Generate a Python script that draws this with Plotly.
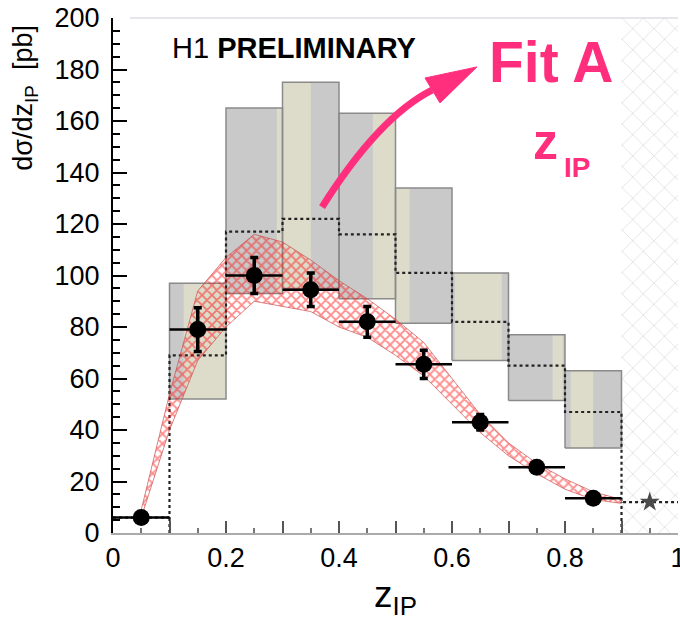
import plotly.graph_objects as go

# ---------------- data ----------------
# measured points
x_pts = [0.05, 0.15, 0.25, 0.35, 0.45, 0.55, 0.65, 0.75, 0.85]
y_pts = [6, 79, 100, 94.5, 82, 65.5, 43, 25.5, 13.5]
y_err = [1, 8.5, 7, 6.5, 6, 5.5, 3, 2, 1.5]
x_halfwidth = [0.05] * 9
x_excl_pt = [0.95]
y_excl_pt = [12]

# model uncertainty boxes (per bin)
box_x0 = [0.1, 0.2, 0.3, 0.4, 0.5, 0.6, 0.7, 0.8]
box_x1 = [0.2, 0.3, 0.4, 0.5, 0.6, 0.7, 0.8, 0.9]
box_lo = [52, 93, 95, 91, 81.5, 67, 51.5, 33]
box_hi = [97, 165, 175, 163, 134, 101, 77, 63]
strip_x0 = [0.125, 0.29, 0.30, 0.46, 0.50, 0.605, 0.778, 0.81]
strip_x1 = [0.200, 0.30, 0.35, 0.50, 0.525, 0.688, 0.796, 0.85]

# dotted central histogram
hist_edges = [0.0, 0.1, 0.2, 0.3, 0.4, 0.5, 0.6, 0.7, 0.8, 0.9, 1.0]
hist_vals = [6, 69, 117, 122, 116, 101, 82, 65, 47, 12]

# Fit A band
band_x = [0.05, 0.10, 0.15, 0.20, 0.25, 0.30, 0.35, 0.40, 0.45, 0.50,
          0.55, 0.60, 0.65, 0.70, 0.75, 0.80, 0.85, 0.90]
band_up = [9, 54, 94, 107, 116, 113, 106, 98, 91, 83, 74, 60, 46, 35, 27, 21, 16, 13]
band_lo = [6, 40, 67, 80, 90, 88, 86, 80, 76, 69, 61, 50, 39, 30, 23, 17, 13, 11.5]

# excluded region
excl_x = [0.9, 1.0]
y_range = [0, 200]

x_major = [0, 0.2, 0.4, 0.6, 0.8, 1.0]
x_major_text = ["0", "0.2", "0.4", "0.6", "0.8", "1"]
x_mid = [0.1, 0.3, 0.5, 0.7, 0.9]

PINK = "#ff2f7d"
FONT = "Liberation Sans, Arial, sans-serif"

fig = go.Figure()

# excluded hatched region
fig.add_trace(go.Scatter(
    x=[excl_x[0], excl_x[1], excl_x[1], excl_x[0], excl_x[0]],
    y=[y_range[0], y_range[0], y_range[1], y_range[1], y_range[0]],
    fill="toself", mode="lines", line=dict(width=0),
    fillcolor="rgba(0,0,0,0)",
    fillpattern=dict(shape="x", fgcolor="#bdbdbd", bgcolor="white", size=15, solidity=0.1),
    hoverinfo="skip", showlegend=False))

# gray boxes fill
for x0, x1, lo, hi in zip(box_x0, box_x1, box_lo, box_hi):
    fig.add_trace(go.Scatter(
        x=[x0, x1, x1, x0, x0], y=[lo, lo, hi, hi, lo],
        fill="toself", mode="lines", line=dict(width=0),
        fillcolor="#c9c9c9", hoverinfo="skip", showlegend=False))
# beige strips
for s0, s1, lo, hi in zip(strip_x0, strip_x1, box_lo, box_hi):
    fig.add_trace(go.Scatter(
        x=[s0, s1, s1, s0, s0], y=[lo, lo, hi, hi, lo],
        fill="toself", mode="lines", line=dict(width=0),
        fillcolor="#dddccb", hoverinfo="skip", showlegend=False))
# box outlines
for x0, x1, lo, hi in zip(box_x0, box_x1, box_lo, box_hi):
    fig.add_trace(go.Scatter(
        x=[x0, x1, x1, x0, x0], y=[lo, lo, hi, hi, lo],
        mode="lines", line=dict(width=1.5, color="#8a8a8a"),
        hoverinfo="skip", showlegend=False))

# dotted histogram
hx, hy = [], []
for i, v in enumerate(hist_vals):
    hx += [hist_edges[i], hist_edges[i + 1]]
    hy += [v, v]
fig.add_trace(go.Scatter(x=hx, y=hy, mode="lines",
                         line=dict(color="#222", width=2.2, dash="dot"),
                         hoverinfo="skip", showlegend=False))
# dotted drops to zero at the edges of the measured range
fig.add_trace(go.Scatter(
    x=[hist_edges[1], hist_edges[1], None, hist_edges[9], hist_edges[9]],
    y=[0, hist_vals[0], None, 0, hist_vals[9]],
    mode="lines", line=dict(color="#222", width=2.2, dash="dot"),
    hoverinfo="skip", showlegend=False))

# Fit A band
fig.add_trace(go.Scatter(
    x=band_x + band_x[::-1], y=band_up + band_lo[::-1],
    fill="toself", mode="lines",
    line=dict(width=1, color="rgba(200,80,80,0.7)"),
    fillcolor="rgba(0,0,0,0)",
    fillpattern=dict(shape="x", fgcolor="rgb(255,20,20)", bgcolor="rgba(255,255,255,0)",
                     size=7, solidity=0.45),
    hoverinfo="skip", showlegend=False))

# data points
fig.add_trace(go.Scatter(
    x=x_pts, y=y_pts, mode="markers",
    marker=dict(color="black", size=17, symbol="circle"),
    error_y=dict(type="data", array=y_err, color="black", thickness=3.5, width=4),
    error_x=dict(type="data", array=x_halfwidth, color="black", thickness=2.5, width=0),
    hoverinfo="skip", showlegend=False))
fig.add_trace(go.Scatter(
    x=x_excl_pt, y=y_excl_pt, mode="markers",
    marker=dict(color="#4a4a4a", size=15, symbol="star"),
    hoverinfo="skip", showlegend=False))

# mid-bin ticks on an overlaid axis (unlabelled)
fig.add_trace(go.Scatter(x=[0, 1], y=[0, 0], xaxis="x2", mode="markers",
                         marker=dict(opacity=0), hoverinfo="skip", showlegend=False))

# curved pink arrow (annotation graphics)
fig.add_shape(type="path", xref="x", yref="y",
              path="M 0.370,126.6 Q 0.4708,161.6 0.5646,172.0",
              line=dict(color=PINK, width=7))
fig.add_shape(type="path", xref="x", yref="y",
              path="M 0.6442,181.0 L 0.5522,176.7 L 0.5788,167.0 Z",
              fillcolor=PINK, line=dict(color=PINK, width=1))

# top frame line
fig.add_shape(type="line", xref="paper", yref="paper", x0=0.03, x1=1.0, y0=1, y1=1,
              line=dict(color="#dcdce6", width=1.5))

annotations = [
    dict(text="H1 <b>PRELIMINARY</b>", x=0.101, y=0.942, xref="paper", yref="paper",
         xanchor="left", yanchor="middle", showarrow=False,
         font=dict(size=29, color="black", family=FONT)),
    dict(text="<b>Fit A</b>", x=0.662, y=0.915, xref="paper", yref="paper",
         xanchor="left", yanchor="middle", showarrow=False,
         font=dict(size=57, color=PINK, family=FONT)),
    dict(text="<b>z</b>", x=0.765, y=0.76, xref="paper", yref="paper",
         xanchor="center", yanchor="middle", showarrow=False,
         font=dict(size=50, color=PINK, family=FONT)),
    dict(text="<b>IP</b>", x=0.795, y=0.709, xref="paper", yref="paper",
         xanchor="left", yanchor="middle", showarrow=False,
         font=dict(size=28, color=PINK, family=FONT)),
    dict(text="dσ/dz<sub>IP</sub>  [pb]", x=-0.156, y=0.845, xref="paper", yref="paper",
         xanchor="center", yanchor="middle", textangle=-90, showarrow=False,
         font=dict(size=27, color="black", family=FONT)),
    dict(text="z<sub>IP</sub>", x=0.5, y=-0.125, xref="paper", yref="paper",
         xanchor="center", yanchor="middle", showarrow=False,
         font=dict(size=37, color="black", family=FONT)),
]

fig.update_layout(
    width=680, height=626,
    margin=dict(l=113, r=2, t=18, b=93, autoexpand=False),
    paper_bgcolor="white", plot_bgcolor="white",
    annotations=annotations,
    showlegend=False,
    font=dict(family=FONT, color="black"),
    xaxis2=dict(overlaying="x", range=[0, 1], tickvals=x_mid, showticklabels=False,
                ticks="inside", ticklen=12, tickwidth=1.5, tickcolor="#555",
                showline=False, showgrid=False, zeroline=False, side="bottom",
                automargin=False),
)
fig.update_layout(xaxis=dict(
    range=[0, 1], tickvals=x_major, ticktext=x_major_text,
    ticks="inside", ticklen=12, tickwidth=1.5, tickcolor="#555",
    minor=dict(dtick=0.05, ticks="inside", ticklen=5, tickcolor="#777", tickwidth=1.5),
    showline=True, linecolor="#aaaaaa", linewidth=1.5,
    showgrid=False, zeroline=False, ticklabeloverflow="allow", automargin=False,
    tickfont=dict(size=27, color="black", family=FONT)))
fig.update_yaxes(range=y_range, tickvals=list(range(0, 201, 20)),
                 ticks="inside", ticklen=14, tickwidth=2, tickcolor="black",
                 minor=dict(dtick=5, ticks="inside", ticklen=7, tickcolor="black", tickwidth=1.5),
                 showline=True, linecolor="black", linewidth=2, automargin=False,
                 showgrid=False, zeroline=False, ticklabelstandoff=6,
                 tickfont=dict(size=27, color="black", family=FONT))

fig.write_html("out.html")
